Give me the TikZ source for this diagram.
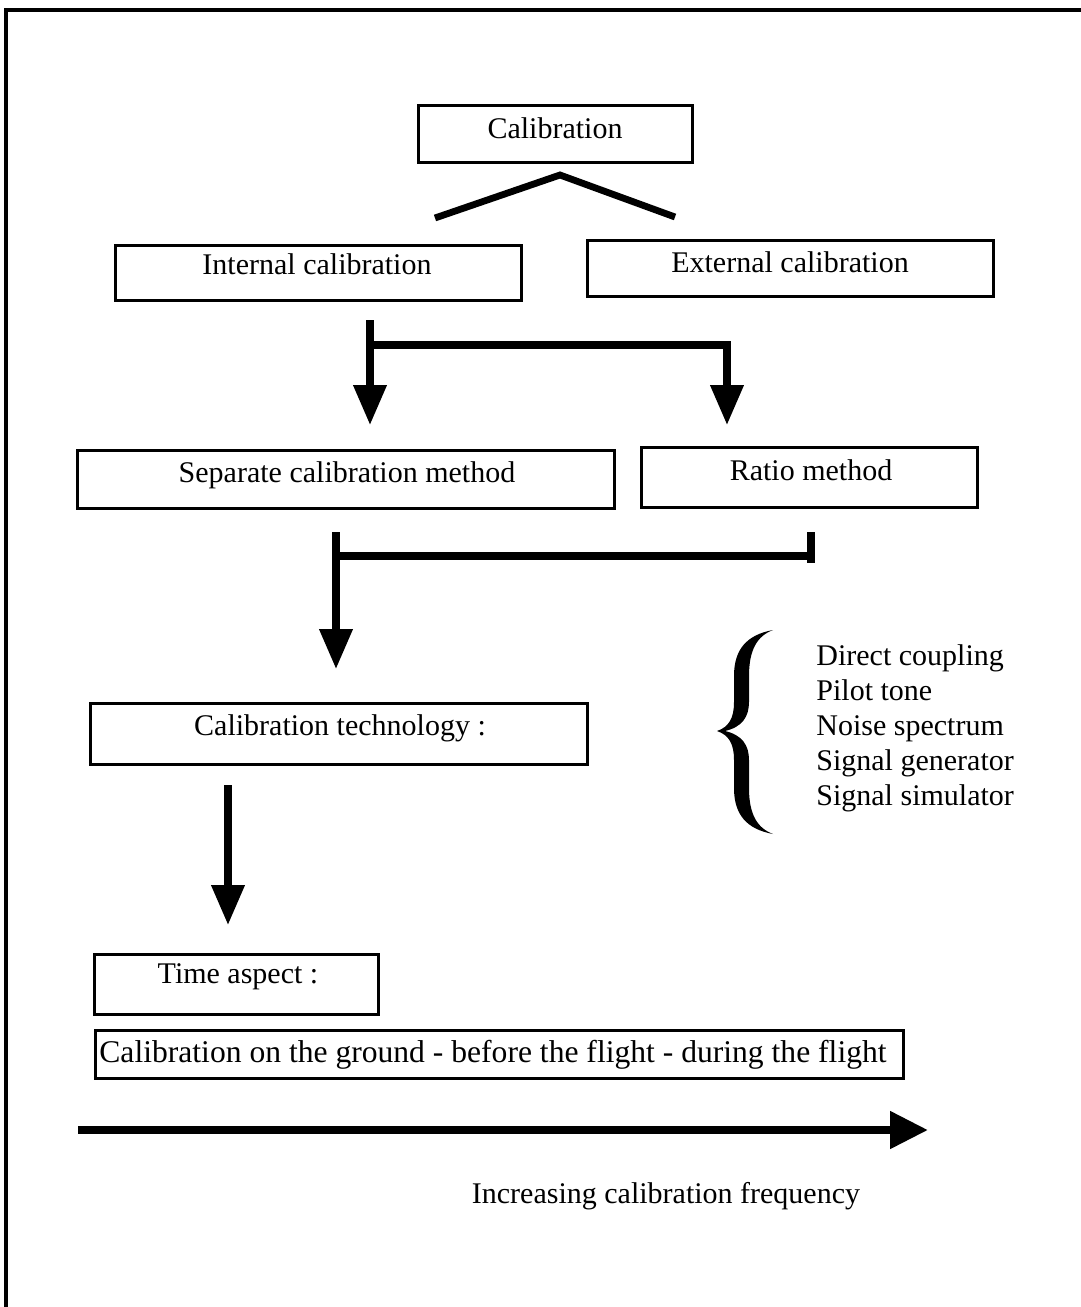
\documentclass[tikz,border=0pt]{standalone}
\usepackage{fontspec}
\setmainfont{Liberation Serif}
\usetikzlibrary{arrows.meta}
\begin{document}
\begin{tikzpicture}[x=0.5pt,y=-0.5pt,
  box/.style={draw, line width=1.5pt, inner sep=0pt},
  txt/.style={font=\fontsize{15}{18}\selectfont, inner sep=0pt},
  conn/.style={line width=3.6pt},
  arr/.style={conn, -{Triangle[length=20pt,width=16pt]}},
  bigarr/.style={line width=4pt, -{Triangle[length=19pt,width=18pt]}},
]
\useasboundingbox (0,0) rectangle (1081,1307);

% page frame (top and left edges)
\draw[line width=2pt] (6,1307) -- (6,10) -- (1081,10);

% boxes
\node[box, minimum width=137pt,   minimum height=28.5pt] (cal)  at (555,133.5) {};
\node[box, minimum width=203pt,   minimum height=27.5pt] (int)  at (318,272.5) {};
\node[box, minimum width=203pt,   minimum height=28pt]   (ext)  at (790,268)   {};
\node[box, minimum width=268.5pt, minimum height=29pt]   (sep)  at (345.5,479) {};
\node[box, minimum width=168pt,   minimum height=30pt]   (rat)  at (809,477)   {};
\node[box, minimum width=248.5pt, minimum height=30.5pt] (tech) at (338.5,733.5) {};
\node[box, minimum width=142pt,   minimum height=30pt]   (time) at (236,984)   {};
\node[box, minimum width=404pt,   minimum height=24pt]   (when) at (499,1054)  {};

% box labels
\node[txt, anchor=base] (calT)  at (555,138) {Calibration};
\node[txt, anchor=base] (intT)  at (317,274) {Internal calibration};
\node[txt, anchor=base] (extT)  at (790,272) {External calibration};
\node[txt, anchor=base] (sepT)  at (347,482) {Separate calibration method};
\node[txt, anchor=base] (ratT)  at (811,480) {Ratio method};
\node[txt, anchor=base] (techT) at (340,735) {Calibration technology :};
\node[txt, anchor=base] (timeT) at (238,983) {Time aspect :};
\node[txt, anchor=base west, font=\fontsize{15.8}{18}\selectfont] (whenT) at (99,1062)
  {Calibration on the ground - before the flight - during the flight};

% split below the top box
\coordinate (capL) at (435,218);
\coordinate (capA) at (560,175);
\coordinate (capR) at (675,217);
\draw[line width=3.4pt] (capL) -- (capA) -- (capR);

% internal calibration branches into the two methods
\coordinate (s1)  at (370,320);
\coordinate (j1)  at (370,345);
\coordinate (t1a) at (370,425);
\coordinate (t1b) at (727,425);
\draw[arr] (s1) -- (t1a);
\draw[arr] (j1) -| (t1b);

% both methods join into the technology box
\coordinate (s2)  at (336,532);
\coordinate (j2)  at (336,556);
\coordinate (k2)  at (811,556);
\coordinate (r2a) at (811,532);
\coordinate (r2b) at (811,563);
\coordinate (t2)  at (336,669);
\draw[arr] (s2) -- (t2);
\draw[conn] (j2) -- (k2);
\draw[conn] (r2a) -- (r2b);

% technology to time aspect
\coordinate (s3) at (228,785);
\coordinate (t3) at (228,925);
\draw[arr] (s3) -- (t3);

% brace grouping the techniques
\fill (773,630) .. controls (746,635) and (734,650) .. (734,676)
  -- (734,702) .. controls (734,718) and (729,727) .. (717,731)
  .. controls (729,735) and (734,744) .. (734,760)
  -- (734,788) .. controls (734,814) and (746,829) .. (773,834)
  .. controls (757,828) and (749,814) .. (749,788)
  -- (749,760) .. controls (749,745) and (742,735) .. (725,731)
  .. controls (742,727) and (749,717) .. (749,702)
  -- (749,676) .. controls (749,650) and (757,636) .. (773,630) -- cycle;

\node[txt, anchor=base west] (m1) at (816,665) {Direct coupling};
\node[txt, anchor=base west] (m2) at (816,700) {Pilot tone};
\node[txt, anchor=base west] (m3) at (816,735) {Noise spectrum};
\node[txt, anchor=base west] (m4) at (816,770) {Signal generator};
\node[txt, anchor=base west] (m5) at (816,805) {Signal simulator};

% frequency axis
\coordinate (f0) at (78,1130);
\coordinate (f1) at (928,1130);
\draw[bigarr] (f0) -- (f1);
\node[txt, anchor=base] (freq) at (666,1203) {Increasing calibration frequency};
\end{tikzpicture}
\end{document}
